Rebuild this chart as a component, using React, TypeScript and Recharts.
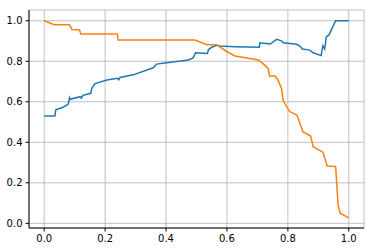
import React from 'react';
import { LineChart, Line, XAxis, YAxis, CartesianGrid } from 'recharts';

// threshold -> precision (blue)
const precisionX = [0, 0.035, 0.038, 0.06, 0.074, 0.079, 0.083, 0.085, 0.118, 0.122, 0.127, 0.153, 0.156, 0.167, 0.206, 0.24, 0.245, 0.249, 0.292, 0.358, 0.369, 0.402, 0.473, 0.489, 0.497, 0.536, 0.539, 0.55, 0.566, 0.577, 0.626, 0.706, 0.708, 0.736, 0.741, 0.763, 0.779, 0.785, 0.829, 0.839, 0.848, 0.872, 0.883, 0.909, 0.915, 0.921, 0.926, 0.935, 0.957, 1.0];
const precisionY = [0.53, 0.53, 0.56, 0.572, 0.583, 0.59, 0.62, 0.612, 0.625, 0.618, 0.632, 0.642, 0.666, 0.69, 0.707, 0.716, 0.709, 0.72, 0.733, 0.768, 0.786, 0.793, 0.806, 0.817, 0.842, 0.838, 0.857, 0.869, 0.879, 0.875, 0.872, 0.869, 0.891, 0.887, 0.884, 0.908, 0.901, 0.891, 0.884, 0.875, 0.86, 0.855, 0.842, 0.828, 0.877, 0.86, 0.92, 0.93, 1.0, 1.0];

// threshold -> recall (orange)
const recallX = [0, 0.033, 0.083, 0.091, 0.116, 0.12, 0.24, 0.243, 0.495, 0.534, 0.566, 0.6, 0.627, 0.704, 0.724, 0.735, 0.74, 0.758, 0.768, 0.779, 0.785, 0.805, 0.83, 0.839, 0.849, 0.875, 0.883, 0.916, 0.929, 0.957, 0.961, 0.965, 0.972, 1.0];
const recallY = [1.0, 0.98, 0.98, 0.957, 0.954, 0.934, 0.934, 0.905, 0.905, 0.882, 0.882, 0.847, 0.826, 0.806, 0.781, 0.765, 0.727, 0.727, 0.707, 0.666, 0.605, 0.553, 0.533, 0.497, 0.452, 0.431, 0.378, 0.35, 0.283, 0.28, 0.181, 0.09, 0.05, 0.027];

const xTicks = [0, 0.2, 0.4, 0.6, 0.8, 1.0];
const yTicks = [0, 0.2, 0.4, 0.6, 0.8, 1.0];

const precisionData = precisionX.map((x, i) => ({ x, y: precisionY[i] }));
const recallData = recallX.map((x, i) => ({ x, y: recallY[i] }));

const tickStyle = { fontSize: 10, fill: '#000', fontFamily: 'DejaVu Sans' };
const fmt = (v: number) => v.toFixed(1);

export default function App() {
  return (
    <div style={{ position: 'absolute', left: 0, top: 0, background: '#fff' }}>
      <LineChart width={374} height={250} margin={{ top: 10, right: 10, bottom: 0, left: 0 }}>
        <CartesianGrid stroke="#b0b0b0" strokeWidth={0.8} />
        <XAxis
          type="number"
          dataKey="x"
          domain={[-0.05, 1.05]}
          ticks={xTicks}
          tickFormatter={fmt}
          height={22}
          tickSize={3.5}
          tickMargin={3}
          tick={tickStyle}
          axisLine={{ stroke: '#000', strokeWidth: 1 }}
          tickLine={{ stroke: '#000' }}
          allowDataOverflow
        />
        <XAxis xAxisId="top" orientation="top" type="number" domain={[-0.05, 1.05]} height={0} tick={false} tickLine={false} axisLine={{ stroke: '#000', strokeWidth: 1 }} />
        <YAxis
          type="number"
          domain={[-0.023, 1.053]}
          ticks={yTicks}
          tickFormatter={fmt}
          width={29}
          tickSize={3.5}
          tickMargin={3}
          tick={tickStyle}
          axisLine={{ stroke: '#000', strokeWidth: 1 }}
          tickLine={{ stroke: '#000' }}
          allowDataOverflow
        />
        <YAxis yAxisId="right" orientation="right" type="number" domain={[-0.023, 1.053]} width={0} tick={false} tickLine={false} axisLine={{ stroke: '#000', strokeWidth: 1 }} />
        <Line data={precisionData} dataKey="y" type="linear" stroke="#1f77b4" strokeWidth={1.5} dot={false} isAnimationActive={false} />
        <Line data={recallData} dataKey="y" type="linear" stroke="#ff7f0e" strokeWidth={1.5} dot={false} isAnimationActive={false} />
      </LineChart>
    </div>
  );
}
